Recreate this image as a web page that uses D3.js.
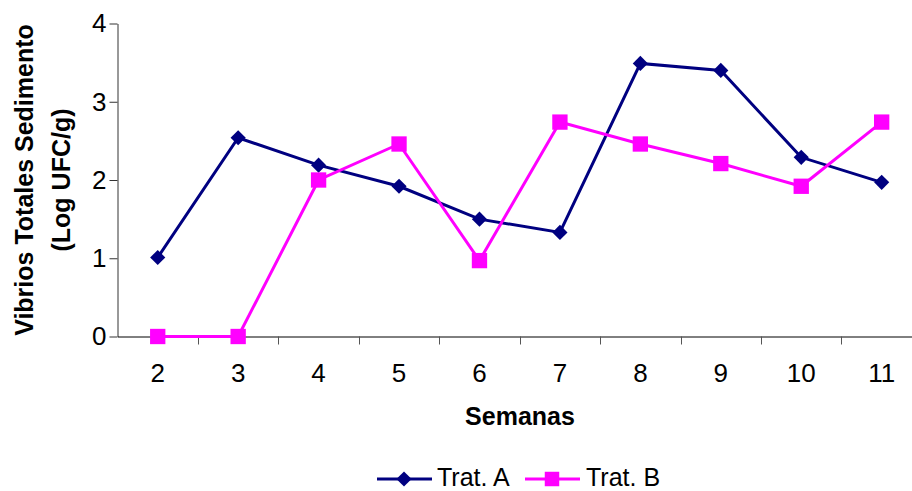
<!DOCTYPE html>
<html><head><meta charset="utf-8">
<script src="https://cdn.jsdelivr.net/npm/d3@7"></script>
<style>html,body{margin:0;padding:0;background:#fff;overflow:hidden}svg{display:block}</style>
</head><body>
<script>
const weeks = ["2","3","4","5","6","7","8","9","10","11"];
const tratA = [1.01, 2.54, 2.19, 1.92, 1.50, 1.33, 3.49, 3.40, 2.29, 1.97];
const tratB = [0.00, 0.00, 2.00, 2.46, 0.97, 2.74, 2.46, 2.21, 1.92, 2.74];
const yTicks = [0, 1, 2, 3, 4];
const seriesNames = ["Trat. A", "Trat. B"];

const W = 912, H = 491;
const plotLeft = 117.5, plotTop = 23.5, plotBottom = 336.5, band = 80.44;
const svg = d3.select("body").append("svg").attr("width", W).attr("height", H)
  .style("font-family", "Arial, 'Liberation Sans', sans-serif");

const x = d3.scaleBand().domain(weeks).range([plotLeft, plotLeft + band * weeks.length]).paddingInner(0).paddingOuter(0);
const y = d3.scaleLinear().domain([0, 4]).range([plotBottom, plotTop]);

// Y axis
const yAxis = svg.append("g").attr("transform", `translate(${plotLeft},0)`)
  .call(d3.axisLeft(y).tickValues(yTicks).tickFormat(d3.format("d")).tickSizeOuter(0).tickSizeInner(8).tickPadding(3));
yAxis.select(".domain").attr("stroke", "#333");
yAxis.selectAll(".tick line").attr("stroke", "#333");
yAxis.selectAll(".tick text").attr("font-size", 26).attr("fill", "#000").attr("font-family", "Arial, 'Liberation Sans', sans-serif");

// X axis
const xAxis = svg.append("g").attr("transform", `translate(0,${plotBottom})`)
  .call(d3.axisBottom(x).tickSize(0).tickPadding(27));
xAxis.select(".domain").attr("stroke", "#000");
xAxis.selectAll(".tick text").attr("font-size", 26).attr("fill", "#000").attr("font-family", "Arial, 'Liberation Sans', sans-serif");
// tick marks between categories
xAxis.selectAll(".sep").data(weeks).enter().append("line")
  .attr("x1", d => Math.round(x(d) + x.bandwidth()) + 0.5)
  .attr("x2", d => Math.round(x(d) + x.bandwidth()) + 0.5)
  .attr("y1", 0).attr("y2", 8).attr("stroke", "#555");

// Titles
svg.append("text").attr("x", 520).attr("y", 425).attr("text-anchor", "middle")
  .attr("font-size", 25).attr("font-weight", "bold").text("Semanas");
const yt = svg.append("text").attr("transform", "translate(33,180) rotate(-90)")
  .attr("text-anchor", "middle").attr("font-size", 25).attr("font-weight", "bold");
yt.append("tspan").attr("x", 0).attr("y", 0).text("Vibrios Totales Sedimento");
yt.append("tspan").attr("x", 0).attr("y", 37).text("(Log UFC/g)");

const cx = d => x(d) + x.bandwidth() / 2;
const line = d3.line().x(d => cx(d.w)).y(d => y(d.v));
const colA = "#000080", colB = "#FF00FF";
const dA = weeks.map((w, i) => ({w, v: tratA[i]}));
const dB = weeks.map((w, i) => ({w, v: tratB[i]}));

const diamond = d3.symbol().type(d3.symbolSquare).size(115);
const square = d3.symbol().type(d3.symbolSquare).size(235);

svg.append("path").datum(dA).attr("d", line).attr("fill", "none").attr("stroke", colA).attr("stroke-width", 3);
svg.selectAll(".ma").data(dA).enter().append("path")
  .attr("d", diamond).attr("fill", colA)
  .attr("transform", d => `translate(${cx(d.w)},${y(d.v)}) rotate(45)`);

svg.append("path").datum(dB).attr("d", line).attr("fill", "none").attr("stroke", colB).attr("stroke-width", 3);
svg.selectAll(".mb").data(dB).enter().append("path")
  .attr("d", square).attr("fill", colB)
  .attr("transform", d => `translate(${cx(d.w)},${y(d.v)})`);

// Legend
const ly = 479;
const leg = svg.append("g");
leg.append("line").attr("x1", 377).attr("x2", 432).attr("y1", ly).attr("y2", ly).attr("stroke", colA).attr("stroke-width", 3);
leg.append("path").attr("d", diamond).attr("fill", colA).attr("transform", `translate(404,${ly}) rotate(45)`);
leg.append("text").attr("x", 437).attr("y", 485.5).attr("font-size", 25).text(seriesNames[0]);
leg.append("line").attr("x1", 525).attr("x2", 580).attr("y1", ly).attr("y2", ly).attr("stroke", colB).attr("stroke-width", 3);
leg.append("path").attr("d", d3.symbol().type(d3.symbolSquare).size(210)).attr("fill", colB).attr("transform", `translate(552,${ly})`);
leg.append("text").attr("x", 586).attr("y", 485.5).attr("font-size", 25).text(seriesNames[1]);
</script>
</body></html>
